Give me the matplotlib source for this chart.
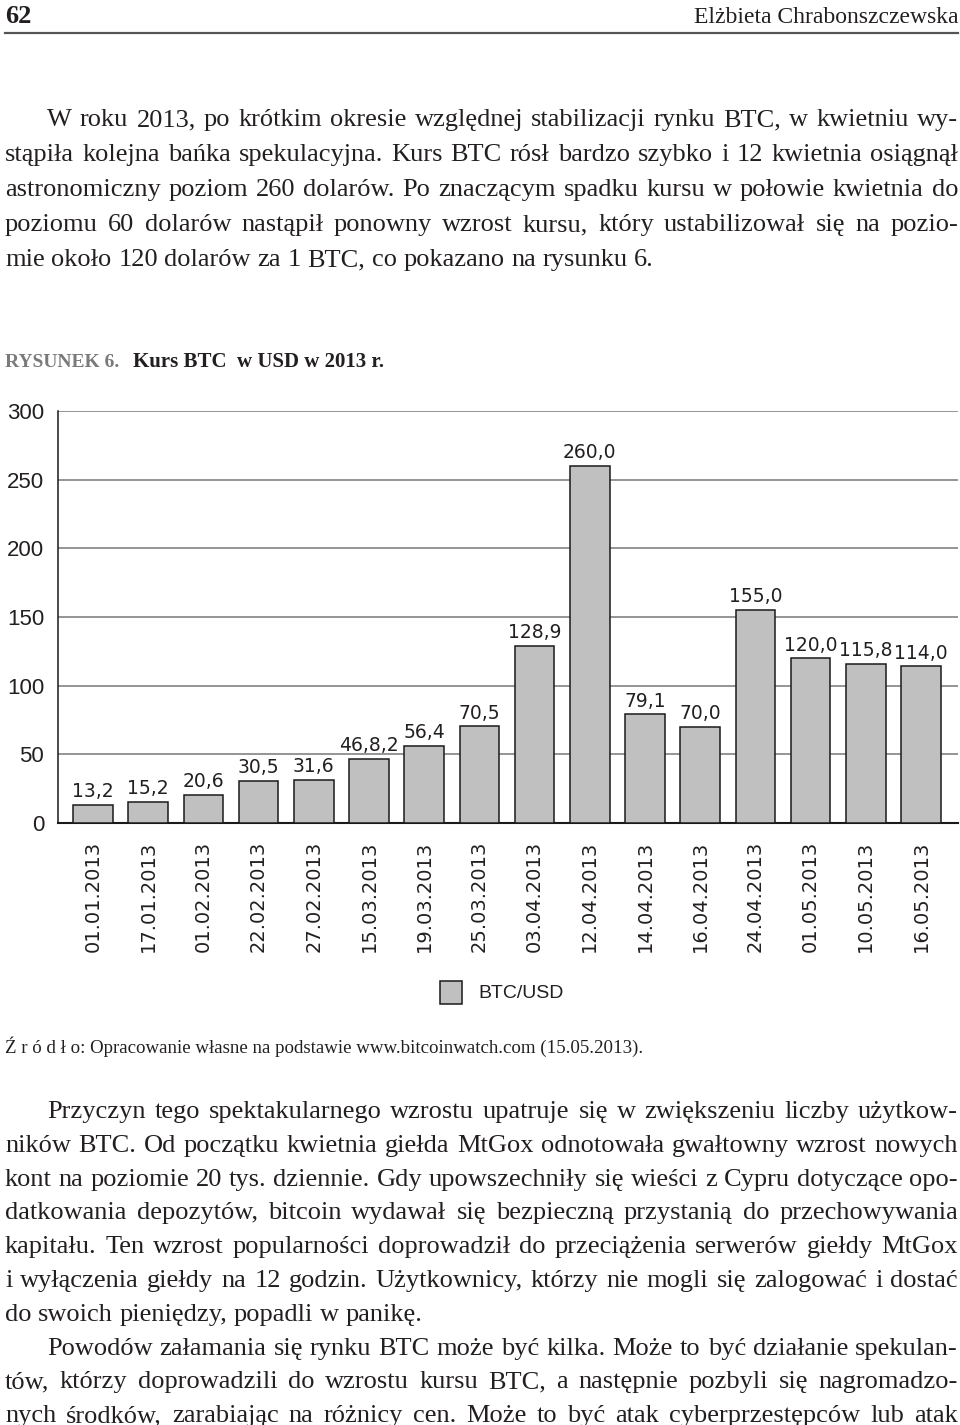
import matplotlib
matplotlib.use('Agg')
import matplotlib.pyplot as plt
from matplotlib.patches import Rectangle

# --- data ---
dates = ['01.01.2013', '17.01.2013', '01.02.2013', '22.02.2013', '27.02.2013',
         '15.03.2013', '19.03.2013', '25.03.2013', '03.04.2013', '12.04.2013',
         '14.04.2013', '16.04.2013', '24.04.2013', '01.05.2013', '10.05.2013',
         '16.05.2013']
prices = [13.2, 15.2, 20.6, 30.5, 31.6, 46.8, 56.4, 70.5, 128.9, 260.0,
          79.1, 70.0, 155.0, 120.0, 115.8, 114.0]
# labels as printed (the 6th one has a typo in the source)
price_labels = ['13,2', '15,2', '20,6', '30,5', '31,6', '46,8,2', '56,4', '70,5',
                '128,9', '260,0', '79,1', '70,0', '155,0', '120,0', '115,8', '114,0']
yticks = [0, 50, 100, 150, 200, 250, 300]

para_top = [
    'W roku 2013, po krótkim okresie względnej stabilizacji rynku BTC, w kwietniu wy-',
    'stąpiła kolejna bańka spekulacyjna. Kurs BTC rósł bardzo szybko i 12 kwietnia osiągnął',
    'astronomiczny poziom 260 dolarów. Po znaczącym spadku kursu w połowie kwietnia do',
    'poziomu 60 dolarów nastąpił ponowny wzrost kursu, który ustabilizował się na pozio-',
    'mie około 120 dolarów za 1 BTC, co pokazano na rysunku 6.',
]
para_bottom = [
    'Przyczyn tego spektakularnego wzrostu upatruje się w zwiększeniu liczby użytkow-',
    'ników BTC. Od początku kwietnia giełda MtGox odnotowała gwałtowny wzrost nowych',
    'kont na poziomie 20 tys. dziennie. Gdy upowszechniły się wieści z Cypru dotyczące opo-',
    'datkowania depozytów, bitcoin wydawał się bezpieczną przystanią do przechowywania',
    'kapitału. Ten wzrost popularności doprowadził do przeciążenia serwerów giełdy MtGox',
    'i wyłączenia giełdy na 12 godzin. Użytkownicy, którzy nie mogli się zalogować i dostać',
    'do swoich pieniędzy, popadli w panikę.',
    'Powodów załamania się rynku BTC może być kilka. Może to być działanie spekulan-',
    'tów, którzy doprowadzili do wzrostu kursu BTC, a następnie pozbyli się nagromadzo-',
    'nych środków, zarabiając na różnicy cen. Może to być atak cyberprzestępców lub atak',
]

W, H = 960, 1425
TXT = '#231f20'
SERIF = ['Liberation Serif', 'DejaVu Serif']

fig = plt.figure(figsize=(W / 100, H / 100), dpi=100)
fig.patch.set_facecolor('white')
rend = fig.canvas.get_renderer()


def fx(x):
    return x / W


def fy(y):
    return 1 - y / H


def text_line(line, x0, x1, yb, size, justify=True):
    words = line.split(' ')
    ts = [fig.text(0, 0, w, fontsize=size, family=SERIF, color=TXT, va='baseline')
          for w in words]
    ws = [t.get_window_extent(rend).width for t in ts]
    if justify and len(words) > 1:
        gap = (x1 - x0 - sum(ws)) / (len(words) - 1)
    else:
        gap = size * 100 / 72 * 0.25
    x = x0
    for t, w in zip(ts, ws):
        t.set_position((fx(x), fy(yb)))
        x += w + gap


# header
fig.text(fx(5), fy(23), '62', fontsize=19, family=SERIF, weight='bold', color=TXT, va='baseline')
fig.text(fx(958), fy(23), 'Elżbieta Chrabonszczewska', fontsize=17, family=SERIF,
         color=TXT, va='baseline', ha='right')
fig.add_artist(plt.Line2D([fx(5), fx(958)], [fy(33), fy(33)], color='#555555', lw=1.6))

# paragraph above the figure
FS = 19
for i, line in enumerate(para_top):
    x0 = 47 if i == 0 else 5
    text_line(line, x0, 958, 126 + i * 35, FS, justify=(i < len(para_top) - 1))

# caption
fig.text(fx(5), fy(367), 'RYSUNEK 6.', fontsize=14, family=SERIF, weight='bold',
         color='#7a7a7a', va='baseline')
fig.text(fx(133), fy(367), 'Kurs BTC  w USD w 2013 r.', fontsize=15, family=SERIF,
         weight='bold', color=TXT, va='baseline')

# chart
ax = fig.add_axes([fx(58), fy(823), fx(958) - fx(58), (823 - 411) / H])
x = list(range(len(prices)))
ax.bar(x, prices, width=0.72, color='#c0c0c0', edgecolor='#1a1a1a', linewidth=1.1, zorder=3)
ax.set_xlim(-0.634, 15.67)
ax.set_ylim(0, 300)
ax.set_yticks(yticks)
ax.set_yticklabels([str(v) for v in yticks], family='Liberation Sans', fontsize=16, color=TXT)
ax.yaxis.grid(True, color='#8c8c8c', lw=1.3, zorder=0)
ax.tick_params(axis='y', length=0, pad=10)
ax.set_xticks(x)
ax.set_xticklabels(dates, rotation=90, family='DejaVu Sans', fontsize=14, color=TXT)
ax.tick_params(axis='x', length=0, pad=13)
for s in ['top', 'right']:
    ax.spines[s].set_visible(False)
ax.spines['left'].set_color('#1a1a1a')
ax.spines['left'].set_linewidth(1.1)
ax.spines['bottom'].set_color('#1a1a1a')
ax.spines['bottom'].set_linewidth(1.5)
ax.set_axisbelow(True)
for xi, v, lab in zip(x, prices, price_labels):
    ax.annotate(lab, (xi, v), xytext=(0, 5.5), textcoords='offset points', ha='center',
                va='baseline', family='DejaVu Sans', fontsize=13.5, color=TXT)

# legend
fig.add_artist(Rectangle((fx(440), fy(1004)), fx(22), 23 / H, facecolor='#c0c0c0',
                         edgecolor='#1a1a1a', lw=1.1, transform=fig.transFigure))
fig.text(fx(478), fy(993), 'BTC/USD', fontsize=14, family='Liberation Sans', color=TXT,
         va='center')

# source
fig.text(fx(5), fy(1053), 'Ź r ó d ł o: Opracowanie własne na podstawie www.bitcoinwatch.com (15.05.2013).',
         fontsize=13.6, family=SERIF, color=TXT, va='baseline')

# paragraphs below the figure
for i, line in enumerate(para_bottom):
    x0 = 47 if i in (0, 7) else 5
    text_line(line, x0, 958, 1118 + i * 33.8, FS, justify=(i != 6))

fig.savefig('out.png', dpi=100, facecolor='white')
